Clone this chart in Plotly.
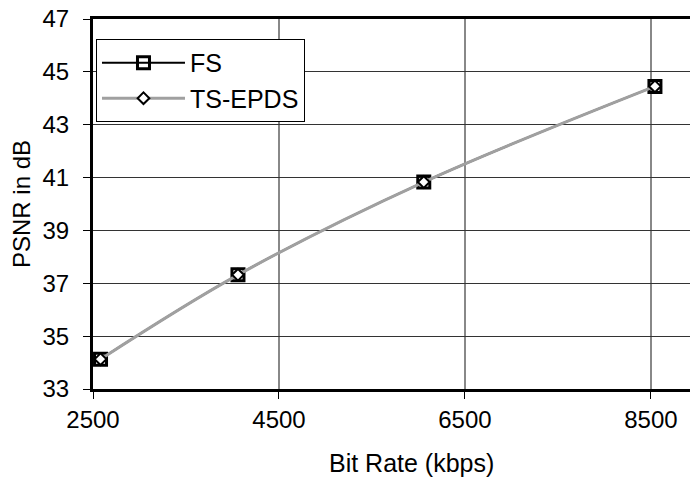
import plotly.graph_objects as go

bit_rate = [2581, 4059, 6057, 8543]
fs_psnr = [34.13, 37.32, 40.83, 44.45]
ts_epds_psnr = [34.13, 37.32, 40.83, 44.45]
x_ticks = [2500, 4500, 6500, 8500]
y_ticks = [33, 35, 37, 39, 41, 43, 45, 47]

fig = go.Figure()
fig.add_trace(go.Scatter(
    x=bit_rate, y=fs_psnr, name="FS", mode="lines+markers",
    line=dict(color="black", width=2, shape="spline"),
    marker=dict(symbol="square-open", size=12, color="black", line=dict(width=3, color="black")),
))
fig.add_trace(go.Scatter(
    x=bit_rate, y=ts_epds_psnr, name="TS-EPDS", mode="lines+markers",
    line=dict(color="#a0a0a0", width=3, shape="spline"),
    marker=dict(symbol="diamond", size=9, color="white", line=dict(width=2, color="black")),
))

font = "Liberation Sans, Arial, sans-serif"
fig.update_layout(
    width=690, height=479,
    margin=dict(l=93, r=0, t=19, b=90),
    paper_bgcolor="white", plot_bgcolor="white",
    font=dict(family=font, color="black"),
    showlegend=True,
    legend=dict(
        x=0.005, y=0.946, xanchor="left", yanchor="top",
        bgcolor="white", bordercolor="black", borderwidth=1,
        font=dict(size=25, family=font), itemwidth=83,
    ),
    xaxis=dict(
        range=[2500, 8920], tickvals=x_ticks, ticktext=[str(v) for v in x_ticks],
        showgrid=True, gridcolor="#888", gridwidth=2,
        showline=True, linecolor="black", linewidth=3, mirror=True,
        ticks="outside", ticklen=7, tickcolor="black", tickwidth=1,
        tickfont=dict(size=24), zeroline=False,
    ),
    yaxis=dict(
        range=[33, 47], tickvals=y_ticks, ticktext=[str(v) for v in y_ticks],
        showgrid=True, gridcolor="#333", gridwidth=1,
        showline=True, linecolor="black", linewidth=3,
        ticks="outside", ticklen=7, tickcolor="black", tickwidth=1,
        tickfont=dict(size=24), zeroline=False, ticklabelstandoff=9,
        title=dict(text="PSNR in dB", font=dict(size=24), standoff=6),
    ),
    annotations=[dict(
        text="Bit Rate (kbps)", xref="paper", yref="paper",
        x=0.533, y=-0.2, xanchor="center", yanchor="middle",
        showarrow=False, font=dict(size=25, family=font),
    )],
)

fig.write_html("out.html")
